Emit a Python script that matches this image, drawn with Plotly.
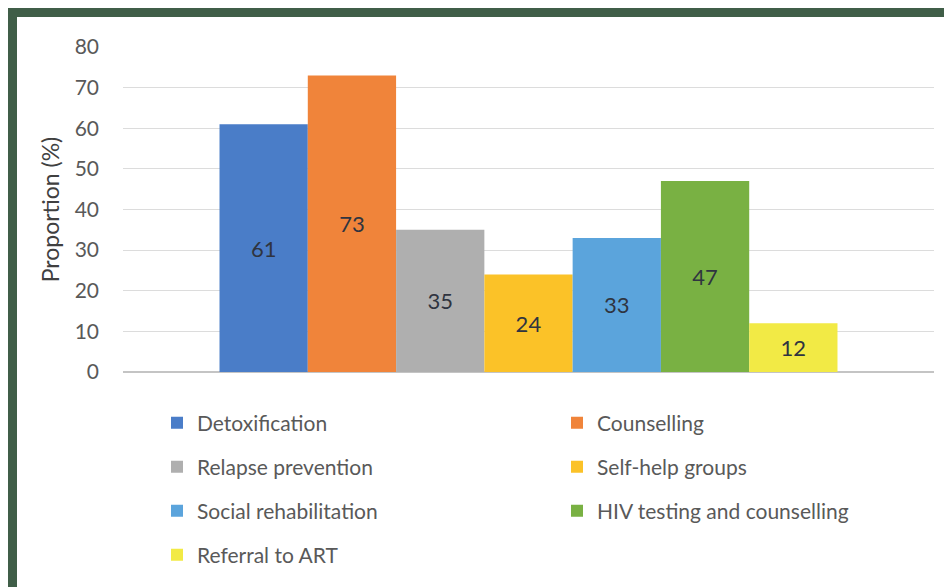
import plotly.graph_objects as go

services = ["Detoxification", "Counselling", "Relapse prevention", "Self-help groups",
            "Social rehabilitation", "HIV testing and counselling", "Referral to ART"]
proportions = [61, 73, 35, 24, 33, 47, 12]
colors = ["#4A7DC8", "#F0843A", "#AFAFAF", "#FBC228", "#5BA4DC", "#79B143", "#F2EA45"]
y_ticks = [0, 10, 20, 30, 40, 50, 60, 70, 80]

# page body adds an 8px margin, so figure coordinates = screen - 8
W, H = 944, 579
L, R, T, B = 115, 18, 39, 215
PW, PH = W - L - R, H - T - B

def px_x(px):
    return (px - L) / PW

def px_y(py):
    return (H - B - py) / PH

FONT = "Lato, Open Sans, sans-serif"

fig = go.Figure()
legend_pos = [(149, 415), (549, 415), (149, 459), (549, 459), (149, 503), (549, 503), (149, 547)]
for i, (name, val, col) in enumerate(zip(services, proportions, colors)):
    lname = "legend" if i == 0 else f"legend{i+1}"
    fig.add_trace(go.Bar(
        x=["Services"], y=[val], name=name,
        marker=dict(color=col, line=dict(width=0)),
        text=[str(val)], textposition="inside", insidetextanchor="middle",
        textfont=dict(family=FONT, size=22, color="#2F3440"),
        legend=lname,
    ))
    lx, ly = legend_pos[i]
    fig.update_layout(**{lname: dict(
        x=px_x(lx), y=px_y(ly), xanchor="left", yanchor="middle",
        bgcolor="rgba(0,0,0,0)",
        font=dict(family=FONT, size=21, color="#595959"),
        itemwidth=30,
    )})

fig.update_layout(
    width=W, height=H,
    margin=dict(l=L, r=R, t=T, b=B, pad=0),
    paper_bgcolor="white", plot_bgcolor="white",
    barmode="group", bargap=0.238, bargroupgap=0,
    showlegend=True,
    xaxis=dict(showticklabels=False, showgrid=False, zeroline=False, showline=False, ticks=""),
    yaxis=dict(
        range=[0, 80], tickvals=y_ticks, showgrid=True, gridcolor="#DCDCDC", gridwidth=1,
        zeroline=True, zerolinecolor="#C4C4C4", zerolinewidth=1.5,
        showline=False, ticks="", ticklabelstandoff=23,
        tickfont=dict(family=FONT, size=21, color="#595959"),
        title=dict(text="Proportion (%)", standoff=8,
                   font=dict(family=FONT, size=23, color="#404040")),
    ),
    shapes=[
        dict(type="rect", xref="paper", yref="paper", x0=px_x(0), x1=px_x(W), y0=px_y(0), y1=px_y(9),
             fillcolor="#405E48", line=dict(width=0), layer="above"),
        dict(type="rect", xref="paper", yref="paper", x0=px_x(0), x1=px_x(9), y0=px_y(0), y1=px_y(H),
             fillcolor="#405E48", line=dict(width=0), layer="above"),
    ],
)

fig.write_html("out.html")
